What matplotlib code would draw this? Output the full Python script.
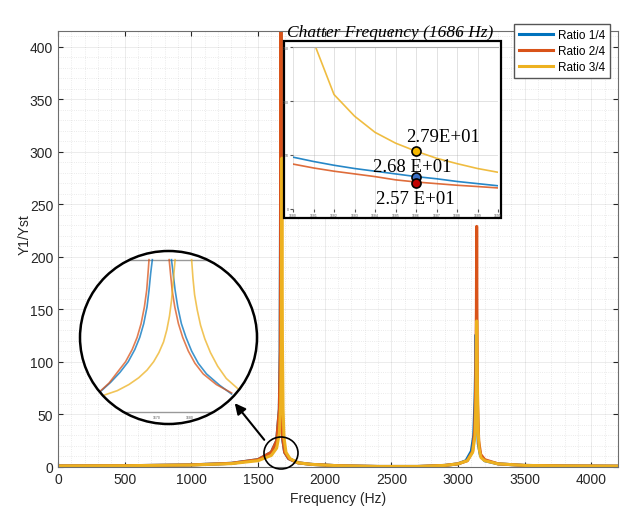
import matplotlib.pyplot as plt
from matplotlib.patches import Ellipse, Rectangle
from matplotlib.ticker import MultipleLocator

# main response curves
freq_14 = [0, 500, 1000, 1300, 1500, 1600, 1640, 1660, 1666, 1669, 1671, 1673, 1676, 1683, 1700, 1730,
           1800, 1900, 2100, 2400, 2700, 2900, 3000, 3060, 3100, 3118, 3128, 3133, 3136, 3139, 3144,
           3152, 3168, 3200, 3300, 3500, 3800, 4200]
amp_14 = [1.0, 1.2, 2.0, 3.5, 7, 14, 25, 55, 110, 250, 420, 250, 110, 28, 14, 8,
          4, 2.5, 1.2, 0.5, 0.5, 1.5, 3, 6, 15, 30, 65, 100, 126, 100, 50,
          22, 11, 6, 3, 1.5, 1, 0.8]

freq_24 = [0, 500, 1000, 1300, 1500, 1600, 1640, 1660, 1667, 1670, 1672, 1674, 1677, 1684, 1700, 1730,
           1800, 1900, 2100, 2400, 2700, 2900, 3000, 3070, 3110, 3125, 3133, 3138, 3140, 3142, 3147,
           3155, 3170, 3200, 3300, 3500, 3800, 4200]
amp_24 = [1.0, 1.2, 2.0, 3.5, 7, 14, 25, 55, 110, 250, 430, 250, 110, 28, 14, 8,
          4, 2.5, 1.2, 0.5, 0.5, 1.5, 3, 6, 15, 35, 80, 150, 229, 150, 60,
          25, 12, 7, 3, 1.5, 1, 0.8]

freq_34 = [0, 500, 1000, 1300, 1500, 1600, 1640, 1660, 1670, 1675, 1679, 1683, 1688, 1695, 1710, 1740,
           1800, 1900, 2100, 2400, 2700, 2900, 3000, 3070, 3110, 3128, 3136, 3140, 3143, 3146, 3151,
           3158, 3172, 3200, 3300, 3500, 3800, 4200]
amp_34 = [1.0, 1.2, 1.9, 3.2, 6, 11, 18, 32, 60, 120, 294, 120, 55, 28, 14, 8,
          4, 2.5, 1.2, 0.5, 0.5, 1.5, 3, 6, 14, 30, 70, 139, 110, 70, 35,
          18, 9, 6, 3, 1.5, 1, 0.8]

labels = ['Ratio 1/4', 'Ratio 2/4', 'Ratio 3/4']
colors = ['#0072BD', '#D95319', '#EDB120']

# chatter frequency box (1680-1690 Hz)
box_f = [1680, 1681, 1682, 1683, 1684, 1685, 1686, 1687, 1688, 1689, 1690]
box_14 = [48, 44, 40.5, 37.5, 35, 32.5, 30, 28, 25.5, 23.5, 21.5]
box_24 = [41.6, 38, 35, 32.5, 30, 27, 25, 23.5, 22, 20.8, 19.5]
box_34 = [300, 155, 106, 86, 71, 61, 53.5, 47, 42, 37.5, 34]
mark_vals = [29.5, 24, 53.4]
mark_text = ['2.68 E+01', '2.57 E+01', '2.79E+01']

# magnified view inside the circle
zl_14 = ([1653.2, 1656, 1658.8, 1661.3, 1663.3, 1664.8, 1666, 1667, 1667.6, 1668.1, 1668.6],
         [14, 19.5, 26, 33, 41, 49, 58, 69, 80, 91, 100])
zr_14 = ([1674.4, 1674.9, 1675.5, 1676.3, 1677.4, 1678.8, 1680.5, 1682.5, 1685, 1689, 1692.6],
         [100, 91, 80, 69, 58, 49, 40, 32, 25, 17.5, 11.8])
zl_24 = ([1653.0, 1655.5, 1658, 1660.5, 1662.5, 1664, 1665.2, 1666.2, 1666.9, 1667.3, 1667.6],
         [14, 19, 26, 33, 41, 49, 58, 69, 80, 91, 100])
zr_24 = ([1673.7, 1674.1, 1674.6, 1675.4, 1676.5, 1677.8, 1679.5, 1681.5, 1684, 1688, 1692.6],
         [100, 91, 80, 69, 58, 49, 40, 32, 25, 18, 12.5])
zl_34 = ([1654.2, 1658, 1661.5, 1664.5, 1667, 1669, 1670.6, 1672, 1673, 1673.8, 1674.4, 1674.9, 1675.5],
         [11.2, 14, 18, 22.5, 27.5, 33, 39, 46, 54, 63, 73, 85, 100])
zr_34 = ([1680.5, 1680.9, 1681.4, 1682.2, 1683.2, 1684.5, 1686.2, 1688.4, 1691, 1694.6],
         [100, 88, 77, 67, 57, 48, 39, 30, 22, 15.1])

W, H = 620, 510
fig = plt.figure(figsize=(W / 100, H / 100), dpi=100)
plt.rcParams['font.family'] = ['Liberation Sans', 'DejaVu Sans']

ax = fig.add_axes([58 / W, 1 - 468 / H, 560 / W, 436 / H])
for f, a, lab, c in zip([freq_14, freq_24, freq_34], [amp_14, amp_24, amp_34], labels, colors):
    ax.plot(f, a, color=c, lw=2.2, label=lab)
ax.set_xlim(0, 4200)
ax.set_ylim(0, 415)
ax.xaxis.set_major_locator(MultipleLocator(500))
ax.xaxis.set_minor_locator(MultipleLocator(100))
ax.yaxis.set_major_locator(MultipleLocator(50))
ax.yaxis.set_minor_locator(MultipleLocator(10))
ax.grid(which='major', color='#262626', alpha=0.1, lw=0.6)
ax.grid(which='minor', color='#262626', alpha=0.12, lw=0.6, ls=':')
ax.tick_params(which='both', direction='in', top=True, right=True, labelsize=10, colors='#262626')
ax.tick_params(which='minor', length=0)
for s in ax.spines.values():
    s.set_color('#6e6e6e')
ax.set_xlabel('Frequency (Hz)', fontsize=10, color='#262626')
ax.set_ylabel('Y1/Yst', fontsize=10, color='#262626')
ax.yaxis.set_label_coords(-0.047, 0.535)
ax.legend(loc='upper right', bbox_to_anchor=(610 / W, 1 - 25 / H), bbox_transform=fig.transFigure,
          fontsize=8.5, fancybox=False, edgecolor='#555555', framealpha=1, handlelength=2.9,
          borderaxespad=0, labelspacing=0.35, handletextpad=0.4)

# chatter frequency box
fig.add_artist(Rectangle((284 / W, 1 - 219 / H), 217 / W, 177 / H, transform=fig.transFigure,
                         facecolor='white', edgecolor='black', lw=1.6, zorder=2))
axb = fig.add_axes([293 / W, 1 - 210 / H, 205 / W, 162 / H], zorder=3)
for y, c in zip([box_14, box_24, box_34], colors):
    axb.plot(box_f, y, color=c, lw=1.2, alpha=0.85)
for v, c in zip(mark_vals, ['#3a6fc4', '#c00000', '#f5b800']):
    axb.plot(1686, v, 'o', ms=6.5, mfc=c, mec='black', mew=1.2, zorder=5)
axb.set_xlim(1680, 1690)
axb.set_ylim(0, 150)
axb.xaxis.set_major_locator(MultipleLocator(1))
axb.yaxis.set_major_locator(MultipleLocator(50))
axb.grid(color='#999999', lw=0.4, alpha=0.5)
axb.tick_params(labelsize=2.5, length=2, colors='#555555', pad=1)
for s in axb.spines.values():
    s.set_visible(False)
axb.spines['top'].set_visible(True)
axb.spines['top'].set_color('#aaaaaa')
axb.text(1687.3, 67, mark_text[2], family='Liberation Serif', fontsize=13.5, ha='center', va='center')
axb.text(1685.8, 39, mark_text[0], family='Liberation Serif', fontsize=13.5, ha='center', va='center')
axb.text(1685.95, 10, mark_text[1], family='Liberation Serif', fontsize=13.5, ha='center', va='center')
fig.text(390 / W, 1 - 33 / H, 'Chatter Frequency (1686 Hz)', family='Liberation Serif',
         style='italic', fontsize=12.5, ha='center', va='center')

# magnifier circle
cx, cy, cw, ch = 168.5 / W, 1 - 338.5 / H, 177 / W, 173 / H
axz = fig.add_axes([80 / W, 1 - 425 / H, 177 / W, 173 / H], zorder=4)
axz.axis('off')
back = Ellipse((cx, cy), cw, ch, transform=fig.transFigure, facecolor='white', edgecolor='none', zorder=0)
axz.add_patch(back)
clip = Ellipse((cx, cy), cw, ch, transform=fig.transFigure)
for yv in [0, 100]:
    ln = axz.axhline(yv, color='#999999', lw=1)
    ln.set_clip_path(clip)
for (xs, ys), c in zip([zl_14, zr_14, zl_24, zr_24, zl_34, zr_34], [colors[0]] * 2 + [colors[1]] * 2 + [colors[2]] * 2):
    ln, = axz.plot(xs, ys, color=c, lw=1.2, alpha=0.75)
    ln.set_clip_path(clip)
axz.text(1670, -4, '1670', fontsize=2.5, ha='center', color='#555555')
axz.text(1680, -4, '1680', fontsize=2.5, ha='center', color='#555555')
axz.set_xlim(1646.7, 1700.3)
axz.set_ylim(-7.9, 105.7)
fig.add_artist(Ellipse((cx, cy), cw, ch, transform=fig.transFigure, facecolor='none',
                       edgecolor='black', lw=1.8, zorder=6))

# small circle around the peak and arrow
fig.add_artist(Ellipse((281 / W, 1 - 454 / H), 34 / W, 32 / H, transform=fig.transFigure,
                       facecolor='none', edgecolor='black', lw=1.2, zorder=6))
ax.annotate('', xy=(233 / W, 1 - 402 / H), xytext=(266 / W, 1 - 443 / H),
            xycoords='figure fraction', textcoords='figure fraction',
            arrowprops=dict(arrowstyle='-|>', color='black', lw=1.5, mutation_scale=16))

fig.savefig('out.png', dpi=100)
